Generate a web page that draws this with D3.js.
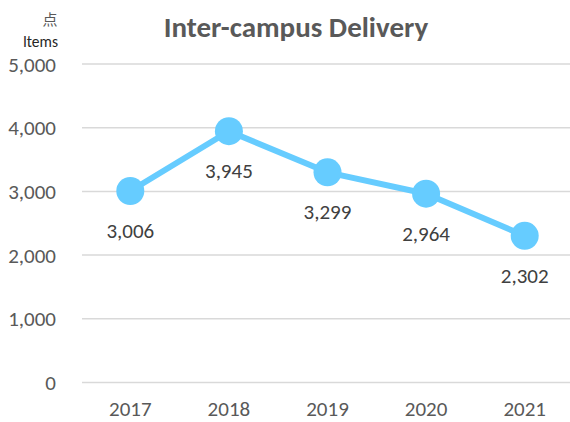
<!DOCTYPE html>
<html><head><meta charset="utf-8">
<script src="https://cdn.jsdelivr.net/npm/d3@7"></script>
<style>body{margin:0;background:#fff}svg{display:block}</style>
</head><body>
<script>
const years = ["2017","2018","2019","2020","2021"];
const values = [3006, 3945, 3299, 2964, 2302];
const yTicks = [0,1000,2000,3000,4000,5000];
const title = "Inter-campus Delivery";
const unitCJK = "点";
const unitEN = "Items";

const W=570,H=422;
const svg=d3.select("body").append("svg").attr("width",W).attr("height",H);
const font="Carlito, 'Liberation Sans', 'Open Sans', sans-serif";
const grey="#595959";
const x=d3.scaleBand().domain(years).range([81,574]);
const y=d3.scaleLinear().domain([0,5000]).range([382.5,64]);

svg.append("g").selectAll("line").data(yTicks).join("line")
  .attr("x1",82).attr("x2",570).attr("y1",d=>y(d)).attr("y2",d=>y(d))
  .attr("stroke","#d9d9d9").attr("stroke-width",1.5);

const fmt=d3.format(",");
const ya=svg.append("g").attr("transform","translate(56,0)")
  .call(d3.axisLeft(y).tickValues(yTicks).tickFormat(fmt).tickSize(0).tickPadding(0));
ya.select(".domain").remove();
ya.selectAll("text").attr("font-family",font).attr("font-size",21).attr("fill",grey).attr("dy","0").attr("y",7);

const xa=svg.append("g").attr("transform","translate(0,416)")
  .call(d3.axisBottom(x).tickSize(0).tickPadding(0));
xa.select(".domain").remove();
xa.selectAll("text").attr("font-family",font).attr("font-size",21).attr("fill",grey).attr("dy","0").attr("y",0);

const cx=(d,i)=>x(years[i])+x.bandwidth()/2;
svg.append("path").datum(values)
  .attr("d",d3.line().x((d,i)=>cx(d,i)).y(d=>y(d)))
  .attr("fill","none").attr("stroke","#66ccff").attr("stroke-width",6).attr("stroke-linejoin","round");
svg.append("g").selectAll("circle").data(values).join("circle")
  .attr("cx",(d,i)=>cx(d,i)).attr("cy",d=>y(d)).attr("r",14).attr("fill","#66ccff");
svg.append("g").selectAll("text").data(values).join("text")
  .attr("x",(d,i)=>cx(d,i)).attr("y",d=>y(d)+47).attr("text-anchor","middle")
  .attr("font-family",font).attr("font-size",21).attr("fill","#404040").text(d=>fmt(d));

svg.append("text").attr("x",296).attr("y",37).attr("text-anchor","middle")
  .attr("font-family",font).attr("font-size",29).attr("font-weight","bold").attr("fill",grey).text(title);
svg.append("text").attr("x",50).attr("y",25).attr("text-anchor","middle")
  .attr("font-family","'Noto Sans CJK JP', sans-serif").attr("font-size",15).attr("fill",grey).text(unitCJK);
svg.append("text").attr("x",58).attr("y",46.5).attr("text-anchor","end")
  .attr("font-family",font).attr("font-size",15.5).attr("fill","#262626").text(unitEN);
</script>
</body></html>
